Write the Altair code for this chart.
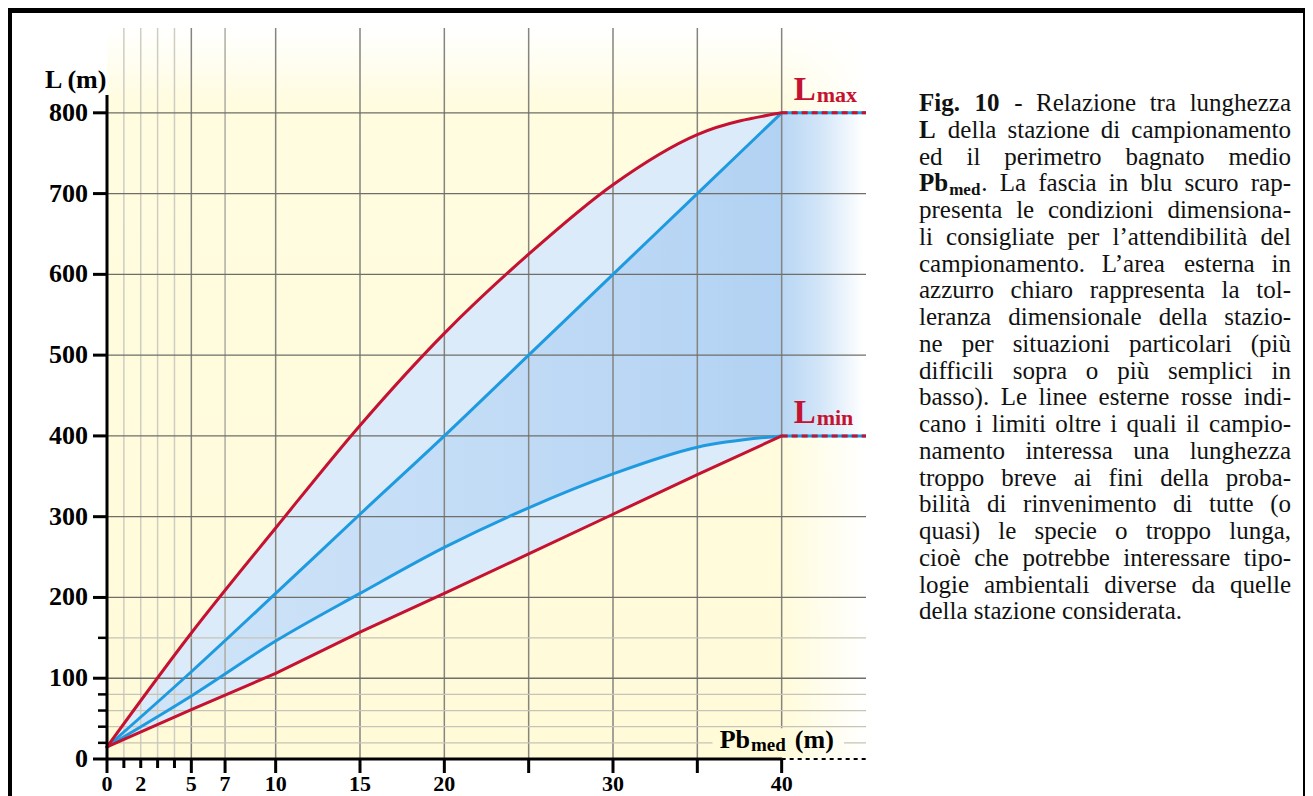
import altair as alt
import pandas as pd

# ---------------- data ----------------
PB = [0, 5, 10, 15, 20, 25, 30, 35, 40]
L_MAX_RED = [15, 156, 286, 413, 527, 625, 711, 773, 800]
L_MAX_BLUE = [15, 108, 205, 303, 400, 500, 600, 700, 800]
L_MIN_BLUE = [15, 78, 146, 205, 262, 311, 353, 386, 400]
L_MIN_RED = [15, 61, 106, 157, 205, 254, 303, 352, 400]
L_LIMITS = [800, 400]
LIMIT_NAMES = ["max", "min"]

X_TICK_LABELS = [0, 2, 5, 7, 10, 15, 20, 30, 40]
X_MAJOR_TICKS = [0, 5, 7, 10, 15, 20, 25, 30, 35, 40]
X_MINOR_TICKS = [1, 2, 3, 4]
X_GRID_DARK = [5, 10, 15, 20, 25, 30, 35, 40]
X_GRID_LIGHT = [1, 2, 3, 4]
X_GRID_MID = [7]
Y_TICK_LABELS = [0, 100, 200, 300, 400, 500, 600, 700, 800]
Y_MINOR = [20, 40, 60, 80, 150]

CAPTION = [
    "*Fig. *10 - Relazione tra lunghezza",
    "*L della stazione di campionamento",
    "ed il perimetro bagnato medio",
    "Pb_med. La fascia in blu scuro rap-",
    "presenta le condizioni dimensiona-",
    "li consigliate per l’attendibilità del",
    "campionamento. L’area esterna in",
    "azzurro chiaro rappresenta la tol-",
    "leranza dimensionale della stazio-",
    "ne per situazioni particolari (più",
    "difficili sopra o più semplici in",
    "basso). Le linee esterne rosse indi-",
    "cano i limiti oltre i quali il campio-",
    "namento interessa una lunghezza",
    "troppo breve ai fini della proba-",
    "bilità di rinvenimento di tutte (o",
    "quasi) le specie o troppo lunga,",
    "cioè che potrebbe interessare tipo-",
    "logie ambientali diverse da quelle",
    "della stazione considerata.",
]

# ---------------- layout ----------------
W, H = 759, 731
X_DOM = [0, 45]
Y_DOM = [0, 905]
xs = alt.Scale(domain=X_DOM, nice=False, zero=False)
ys = alt.Scale(domain=Y_DOM, nice=False, zero=False)
SERIF = "Liberation Serif"
RED = "#c41230"
BLUE = "#1e9be0"


def X(f):
    return alt.X(f, scale=xs, axis=None)


def Y(f):
    return alt.Y(f, scale=ys, axis=None)


def GS(c, o):
    return alt.GradientStop(color=c, offset=o)


# Times metrics (Liberation Serif is metric compatible)
_lc = "abcdefghijklmnopqrstuvwxyz"
_uc = "ABCDEFGHIJKLMNOPQRSTUVWXYZ"
R = dict(zip(_lc, [444, 500, 444, 500, 444, 333, 500, 500, 278, 278, 500, 278, 778,
                   500, 500, 500, 500, 333, 389, 278, 500, 500, 722, 500, 500, 444]))
R.update(zip(_uc, [722, 667, 667, 722, 611, 556, 722, 722, 333, 389, 722, 611, 889,
                   722, 722, 556, 722, 667, 556, 611, 722, 722, 944, 722, 722, 611]))
R.update({" ": 250, "(": 333, ")": 333, ",": 250, "-": 333, ".": 250, "’": 333,
          "à": 444, "è": 444, "é": 444, "ì": 278, "ò": 500, "ù": 500})
R.update({d: 500 for d in "0123456789"})
B = dict(zip(_lc, [500, 556, 444, 556, 444, 333, 500, 556, 278, 333, 556, 278, 833,
                   556, 500, 556, 556, 444, 389, 333, 556, 500, 722, 500, 500, 444]))
B.update(zip(_uc, [722, 667, 722, 722, 667, 611, 778, 778, 389, 500, 778, 667, 944,
                   722, 778, 611, 778, 722, 556, 667, 722, 722, 1000, 722, 722, 667]))
B.update({" ": 250, "(": 333, ")": 333, ",": 250, "-": 333, ".": 250})
B.update({d: 500 for d in "0123456789"})


def tw(s, bold, fs):
    t = B if bold else R
    return sum(t.get(c, 500) for c in s) * fs / 1000.0


def px2x(px):
    return px * (X_DOM[1] - X_DOM[0]) / W + X_DOM[0]


def py2y(py):
    return (H - py) * (Y_DOM[1] - Y_DOM[0]) / H + Y_DOM[0]


# ---------------- caption layout (justified) ----------------
FS, SUB = 25, 17
CAP_L, CAP_R = 812, 1184
BASE0, LH = 83, 26.75


def segs(word):
    if word == "Pb_med.":
        return [("Pb", "b"), ("med", "s"), (".", "r")]
    if word.startswith("*"):
        return [(word[1:], "b")]
    return [(word, "r")]


def seg_w(t, st):
    if st == "b":
        return tw(t, True, FS) + 1
    if st == "s":
        return tw(t, True, SUB) + 1
    return tw(t, False, FS)


rows = {"r": [], "b": [], "s": []}
for i, line in enumerate(CAPTION):
    words = [segs(w) for w in line.split(" ")]
    widths = [sum(seg_w(t, st) for t, st in w) for w in words]
    if i == len(CAPTION) - 1:
        gap = tw(" ", False, FS)
    else:
        gap = (CAP_R - CAP_L - sum(widths)) / (len(words) - 1)
    cx = CAP_L
    by = BASE0 + i * LH
    for w, wd in zip(words, widths):
        sx = cx
        for t, st in w:
            yy = by + (4 if st == "s" else 0)
            rows[st].append({"xd": px2x(sx), "yd": py2y(yy), "t": t})
            sx += seg_w(t, st)
        cx += wd + gap

# ---------------- layers ----------------
one = pd.DataFrame({"a": [0]})
cdf = pd.DataFrame({"pb": PB, "rmax": L_MAX_RED, "bmax": L_MAX_BLUE,
                    "bmin": L_MIN_BLUE, "rmin": L_MIN_RED})

bg = alt.Chart(pd.DataFrame({"x0": [0], "x1": [45], "y0": [0], "y1": [905]})).mark_rect(
    color=alt.Gradient(gradient="linear", x1=0, x2=0, y1=0, y2=1,
                       stops=[GS("#ffffff", 0), GS("#fffce0", 0.1), GS("#fffbd9", 1)])
).encode(x=X("x0:Q"), x2="x1", y=Y("y1:Q"), y2="y0")

fade = alt.Chart(pd.DataFrame({"x0": [40], "x1": [45], "y0": [0], "y1": [905]})).mark_rect(
    color=alt.Gradient(gradient="linear", x1=0, x2=1, y1=0, y2=0,
                       stops=[GS("rgba(255,255,255,0)", 0), GS("rgba(255,255,255,1)", 1)])
).encode(x=X("x0:Q"), x2="x1", y=Y("y1:Q"), y2="y0")

light = alt.Chart(cdf).mark_area(interpolate="monotone", color="#dcebfa").encode(
    x=X("pb:Q"), y=Y("rmax:Q"), y2="rmin")

dark = alt.Chart(cdf).mark_area(
    interpolate="monotone",
    color=alt.Gradient(gradient="linear", x1=0, x2=1, y1=0, y2=0,
                       stops=[GS("#d1e5f8", 0), GS("#c3dcf6", 0.55), GS("#b2d2f3", 1)])
).encode(x=X("pb:Q"), y=Y("bmax:Q"), y2="bmin")

rightblue = alt.Chart(pd.DataFrame({"x0": [40], "x1": [45], "y0": [400], "y1": [800]})).mark_rect(
    color=alt.Gradient(gradient="linear", x1=0, x2=1, y1=0, y2=0,
                       stops=[GS("#b8d6f4", 0), GS("#d2e5f8", 0.45), GS("#ffffff", 0.97)])
).encode(x=X("x0:Q"), x2="x1", y=Y("y1:Q"), y2="y0")


def vgrid(vals, color, sw):
    return alt.Chart(pd.DataFrame({"v": vals})).mark_rule(color=color, strokeWidth=sw).encode(
        x=X("v:Q"), y=alt.value(0), y2=alt.value(H))


def hgrid(vals, color, sw):
    return alt.Chart(pd.DataFrame({"v": vals})).mark_rule(color=color, strokeWidth=sw).encode(
        y=Y("v:Q"), x=alt.value(0), x2=alt.value(W))


grids = [
    vgrid(X_GRID_LIGHT, "#cfcdc2", 1.5),
    vgrid(X_GRID_MID, "#aeaca4", 1.5),
    vgrid(X_GRID_DARK, "#85847e", 1.5),
    hgrid(Y_MINOR, "#c6c4b6", 1.3),
    hgrid([v for v in Y_TICK_LABELS if v > 0], "#6f6e68", 1.3),
]

patch = alt.Chart(pd.DataFrame({"x0": [35.9], "x1": [43.7], "y0": [2], "y1": [38]})).mark_rect(
    color=alt.Gradient(gradient="linear", x1=0, x2=1, y1=0, y2=0,
                       stops=[GS("#fffbd9", 0), GS("#fffbd9", 0.53), GS("#fffef6", 1)])
).encode(x=X("x0:Q"), x2="x1", y=Y("y1:Q"), y2="y0")

ext = pd.DataFrame({"y": L_LIMITS, "x0": [40, 40], "x1": [45, 45], "n": LIMIT_NAMES})
ext_blue = alt.Chart(ext).mark_rule(color=BLUE, strokeWidth=3).encode(
    x=X("x0:Q"), x2="x1", y=Y("y:Q"))
ext_red = alt.Chart(ext).mark_rule(color=RED, strokeWidth=3, strokeDash=[6, 4]).encode(
    x=X("x0:Q"), x2="x1", y=Y("y:Q"))


def curve(field, color, interp):
    return alt.Chart(cdf).mark_line(interpolate=interp, color=color, strokeWidth=3,
                                    strokeCap="round").encode(x=X("pb:Q"), y=Y(field + ":Q"))


curves = [
    curve("bmax", BLUE, "monotone"),
    curve("bmin", BLUE, "monotone"),
    curve("rmax", RED, "monotone"),
    curve("rmin", RED, "linear"),
]

# axes
yaxis = alt.Chart(pd.DataFrame({"x": [0], "y0": [0], "y1": [822]})).mark_rule(
    color="black", strokeWidth=3).encode(x=X("x:Q"), y=Y("y0:Q"), y2="y1")
xaxis = alt.Chart(pd.DataFrame({"y": [0], "x0": [0], "x1": [40]})).mark_rule(
    color="black", strokeWidth=3).encode(y=Y("y:Q"), x=X("x0:Q"), x2="x1")
xaxis_dot = alt.Chart(pd.DataFrame({"y": [0], "x0": [40], "x1": [45]})).mark_rule(
    color="black", strokeWidth=2, strokeDash=[4, 4]).encode(y=Y("y:Q"), x=X("x0:Q"), x2="x1")

xt_major = alt.Chart(pd.DataFrame({"v": X_MAJOR_TICKS})).mark_rule(
    color="black", strokeWidth=3).encode(x=X("v:Q"), y=alt.value(H), y2=alt.value(H + 14))
xt_minor = alt.Chart(pd.DataFrame({"v": X_MINOR_TICKS})).mark_rule(
    color="black", strokeWidth=3).encode(x=X("v:Q"), y=alt.value(H), y2=alt.value(H + 9))
yt_major = alt.Chart(pd.DataFrame({"v": Y_TICK_LABELS})).mark_rule(
    color="black", strokeWidth=3).encode(y=Y("v:Q"), x=alt.value(-14), x2=alt.value(0))
yt_minor = alt.Chart(pd.DataFrame({"v": Y_MINOR})).mark_rule(
    color="black", strokeWidth=2.5).encode(y=Y("v:Q"), x=alt.value(-9), x2=alt.value(0))

xlab = alt.Chart(pd.DataFrame({"v": X_TICK_LABELS, "t": [str(v) for v in X_TICK_LABELS]})).mark_text(
    font=SERIF, fontSize=22, fontWeight="bold", color="black", align="center", baseline="alphabetic"
).encode(x=X("v:Q"), y=alt.value(H + 32), text="t:N")
ylab = alt.Chart(pd.DataFrame({"v": Y_TICK_LABELS, "t": [str(v) for v in Y_TICK_LABELS]})).mark_text(
    font=SERIF, fontSize=26, fontWeight="bold", color="black", align="right", baseline="middle"
).encode(y=Y("v:Q"), x=alt.value(-19), text="t:N")

ytitle = alt.Chart(pd.DataFrame({"x": [0], "y": [800], "t": ["L (m)"]})).mark_text(
    font=SERIF, fontSize=26, fontWeight="bold", color="black", align="left",
    baseline="alphabetic", dx=-62, dy=-25
).encode(x=X("x:Q"), y=Y("y:Q"), text="t:N")

# x title: Pb_med (m)
PB_FS, PB_SUB = 26, 19
w_pb = tw("Pb", True, PB_FS) + 1
w_med = tw("med", True, PB_SUB)
xt_df = pd.DataFrame({"x": [40], "y": [0]})
xtitle = [
    alt.Chart(xt_df.assign(t="Pb")).mark_text(
        font=SERIF, fontSize=PB_FS, fontWeight="bold", color="black", align="left",
        baseline="alphabetic", dx=-62, dy=-11).encode(x=X("x:Q"), y=Y("y:Q"), text="t:N"),
    alt.Chart(xt_df.assign(t="med")).mark_text(
        font=SERIF, fontSize=PB_SUB, fontWeight="bold", color="black", align="left",
        baseline="alphabetic", dx=-62 + w_pb, dy=-8).encode(x=X("x:Q"), y=Y("y:Q"), text="t:N"),
    alt.Chart(xt_df.assign(t="(m)")).mark_text(
        font=SERIF, fontSize=PB_FS, fontWeight="bold", color="black", align="left",
        baseline="alphabetic", dx=-62 + w_pb + w_med + 9, dy=-11).encode(x=X("x:Q"), y=Y("y:Q"), text="t:N"),
]

# Lmax / Lmin labels
LBL_FS, LBL_SUB = 33, 22
w_L = tw("L", True, LBL_FS)
lim_labels = [
    alt.Chart(ext.assign(t="L")).mark_text(
        font=SERIF, fontSize=LBL_FS, fontWeight="bold", color=RED, align="left",
        baseline="alphabetic", dx=12, dy=-13).encode(x=X("x0:Q"), y=Y("y:Q"), text="t:N"),
    alt.Chart(ext).mark_text(
        font=SERIF, fontSize=LBL_SUB, fontWeight="bold", color=RED, align="left",
        baseline="alphabetic", dx=12 + w_L + 1, dy=-11).encode(x=X("x0:Q"), y=Y("y:Q"), text="n:N"),
]

# caption
cap_layers = []
for st, fs, fw in [("r", FS, "normal"), ("b", FS, "bold"), ("s", SUB, "bold")]:
    cap_layers.append(
        alt.Chart(pd.DataFrame(rows[st])).mark_text(
            font=SERIF, fontSize=fs, fontWeight=fw, color="#111111", align="left",
            baseline="alphabetic").encode(x=X("xd:Q"), y=Y("yd:Q"), text="t:N"))

# frame
def frame(x0, x1, y0, y1):
    return alt.Chart(one).mark_rect(color="black").encode(
        x=alt.value(x0), x2=alt.value(x1), y=alt.value(y0), y2=alt.value(y1))


frames = [
    frame(-99, -95, -20, H + 60),
    frame(-99, 1198, -20, -15),
    frame(1196, 1198, -20, H + 60),
]

chart = alt.layer(
    bg, fade, light, dark, rightblue, *grids, patch, ext_blue, ext_red, *curves,
    yaxis, xaxis, xaxis_dot, xt_major, xt_minor, yt_major, yt_minor, xlab, ylab,
    ytitle, *xtitle, *lim_labels, *cap_layers, *frames
).properties(
    width=W, height=H,
    autosize=alt.AutoSizeParams(type="none"),
    padding={"left": 99, "top": 20, "right": 439, "bottom": 37},
    background="white",
).configure_view(strokeWidth=0)

chart.save("out.html", embed_options={"renderer": "svg", "actions": False})
